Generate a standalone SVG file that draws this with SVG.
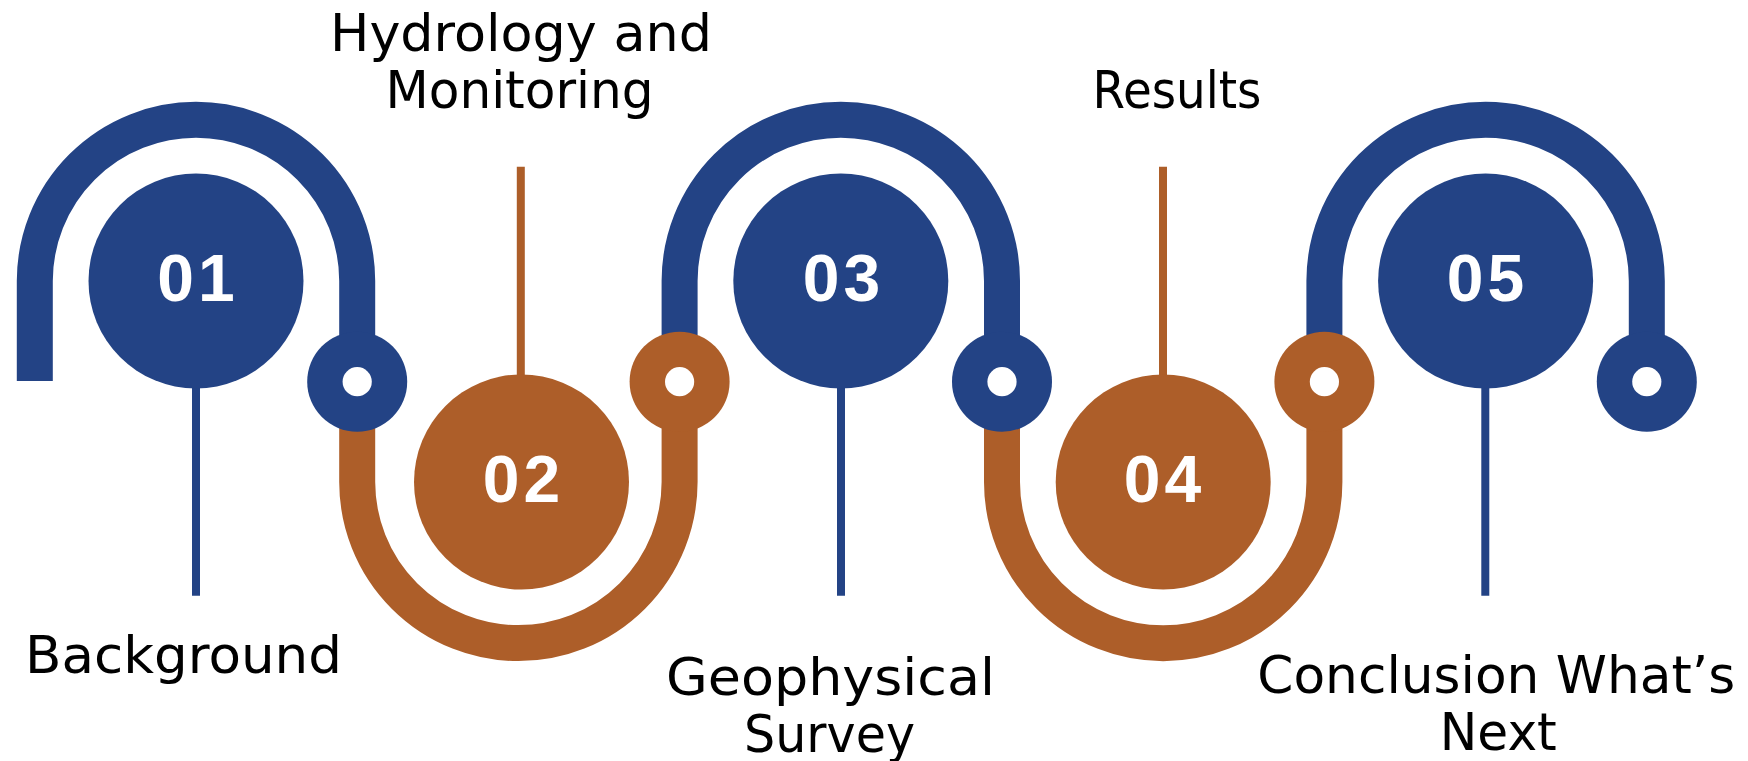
<svg xmlns="http://www.w3.org/2000/svg" width="1748" height="761" viewBox="0 0 1748 761">
  <style>
    .band { fill: none; stroke-width: 36; stroke-linecap: butt; }
    .blue { stroke: #234385; }
    .brown { stroke: #AD5E29; }
    .fblue { fill: #234385; }
    .fbrown { fill: #AD5E29; }
    .hole { fill: #ffffff; }
    .stem { stroke-width: 8; stroke-linecap: butt; }
    .num { font-family: "Liberation Sans", Arial, sans-serif; font-weight: bold; font-size: 66px; fill: #ffffff; text-anchor: middle; letter-spacing: 4px; }
    .label { font-family: "DejaVu Sans", "Liberation Sans", sans-serif; font-size: 52px; fill: #000000; text-anchor: middle; }
  </style>
  <rect width="1748" height="761" fill="#ffffff"/>

  <g id="connectors">
    <!-- blue top arcs -->
    <path class="band blue" d="M 34.8 381 V 281 A 161.2 161.2 0 0 1 357.2 281 V 381.7"/>
    <path class="band blue" d="M 679.6 381.7 V 281 A 161.2 161.2 0 0 1 1002 281 V 381.7"/>
    <path class="band blue" d="M 1324.4 381.7 V 281 A 161.2 161.2 0 0 1 1646.8 281 V 381.7"/>
    <!-- brown bottom arcs -->
    <path class="band brown" d="M 357.2 381.7 V 482 A 161.2 161.2 0 0 0 679.6 482 V 381.7"/>
    <path class="band brown" d="M 1002 381.7 V 482 A 161.2 161.2 0 0 0 1324.4 482 V 381.7"/>
    <!-- stems -->
    <line class="stem blue" x1="196" y1="385" x2="196" y2="595.7"/>
    <line class="stem brown" x1="520.8" y1="166.7" x2="520.8" y2="378"/>
    <line class="stem blue" x1="841" y1="385" x2="841" y2="595.7"/>
    <line class="stem brown" x1="1163" y1="166.7" x2="1163" y2="378"/>
    <line class="stem blue" x1="1485.3" y1="385" x2="1485.3" y2="595.7"/>
    <!-- rings -->
    <circle class="fblue" cx="357.2" cy="381.7" r="50"/>
    <circle class="hole" cx="357.2" cy="381.7" r="14.6"/>
    <circle class="fbrown" cx="679.6" cy="381.7" r="50"/>
    <circle class="hole" cx="679.6" cy="381.7" r="14.6"/>
    <circle class="fblue" cx="1002" cy="381.7" r="50"/>
    <circle class="hole" cx="1002" cy="381.7" r="14.6"/>
    <circle class="fbrown" cx="1324.4" cy="381.7" r="50"/>
    <circle class="hole" cx="1324.4" cy="381.7" r="14.6"/>
    <circle class="fblue" cx="1646.8" cy="381.7" r="50"/>
    <circle class="hole" cx="1646.8" cy="381.7" r="14.6"/>
  </g>

  <g id="step01">
    <circle class="fblue" cx="196" cy="281" r="107.5"/>
    <text class="num" x="198" y="301">01</text>
    <text class="label" x="183.5" y="672.7" textLength="317" lengthAdjust="spacingAndGlyphs">Background</text>
  </g>

  <g id="step02">
    <circle class="fbrown" cx="521.5" cy="482" r="107.5"/>
    <text class="num" x="523.5" y="502">02</text>
    <text class="label" x="521" y="50.7" textLength="382" lengthAdjust="spacingAndGlyphs">Hydrology and</text>
    <text class="label" x="519.5" y="107.7" textLength="268" lengthAdjust="spacingAndGlyphs">Monitoring</text>
  </g>

  <g id="step03">
    <circle class="fblue" cx="840.8" cy="281" r="107.5"/>
    <text class="num" x="843.5" y="301">03</text>
    <text class="label" x="830.5" y="695" textLength="329" lengthAdjust="spacingAndGlyphs">Geophysical</text>
    <text class="label" x="829.5" y="751.7" textLength="171" lengthAdjust="spacingAndGlyphs">Survey</text>
  </g>

  <g id="step04">
    <circle class="fbrown" cx="1163.2" cy="482" r="107.5"/>
    <text class="num" x="1164.5" y="502">04</text>
    <text class="label" x="1177" y="107.7" textLength="169" lengthAdjust="spacingAndGlyphs">Results</text>
  </g>

  <g id="step05">
    <circle class="fblue" cx="1485.6" cy="281" r="107.5"/>
    <text class="num" x="1487.5" y="301">05</text>
    <text class="label" x="1496.3" y="692.7" textLength="478" lengthAdjust="spacingAndGlyphs">Conclusion What’s</text>
    <text class="label" x="1498.3" y="750" textLength="117" lengthAdjust="spacingAndGlyphs">Next</text>
  </g>
</svg>
